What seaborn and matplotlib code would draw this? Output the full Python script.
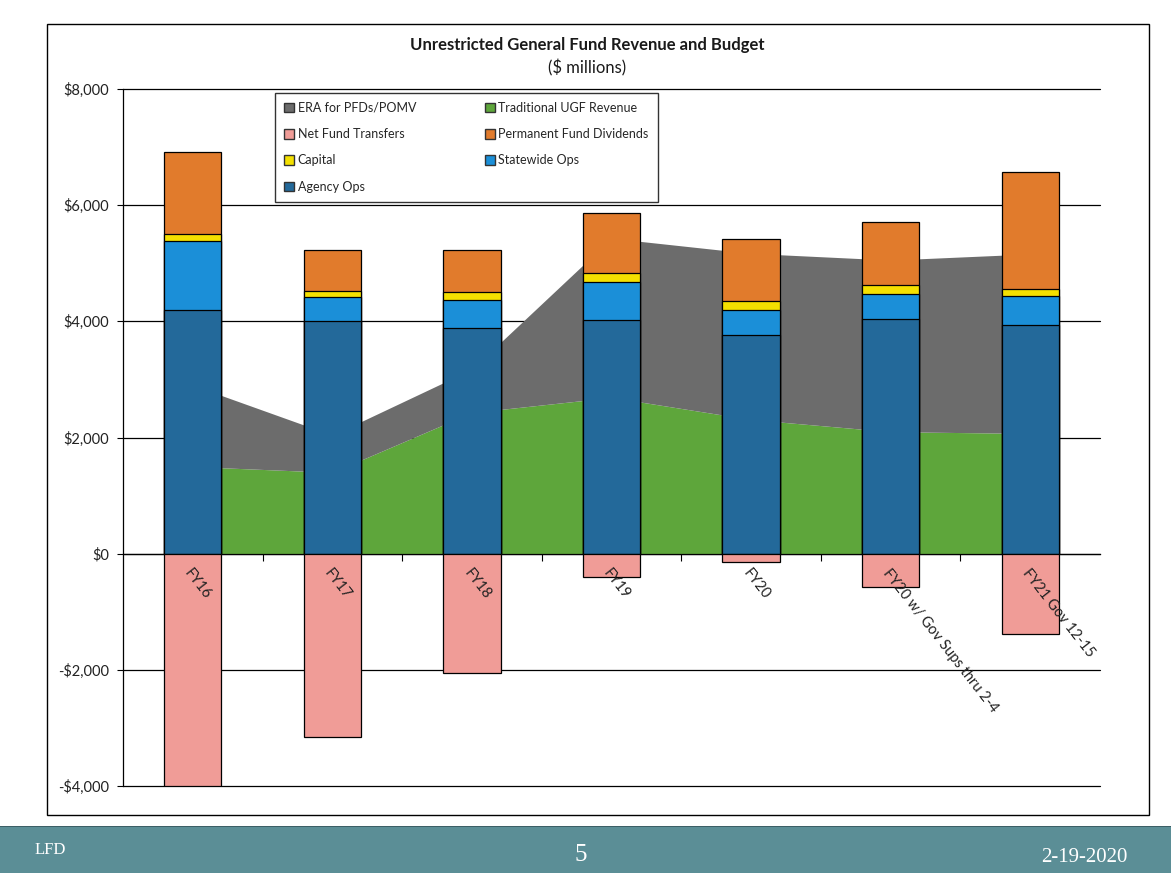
import numpy as np
import pandas as pd
import matplotlib
matplotlib.use("Agg")
import matplotlib.pyplot as plt
import seaborn as sns
from matplotlib.patches import Patch, Rectangle
from matplotlib.ticker import FuncFormatter, FixedLocator

# ---------------- data ($ millions) ----------------
categories = ["FY16", "FY17", "FY18", "FY19", "FY20",
              "FY20 w/ Gov Sups thru 2-4", "FY21 Gov 12-15"]
agency_ops = [4200, 4000, 3880, 4020, 3760, 4040, 3930]
statewide_ops = [1180, 420, 490, 650, 440, 430, 500]
capital = [130, 100, 140, 155, 150, 155, 125]
pf_dividends = [1400, 700, 710, 1035, 1070, 1080, 2020]
net_fund_transfers = [-4000, -3160, -2050, -410, -145, -580, -1380]
traditional_ugf = [1500, 1400, 2430, 2690, 2310, 2100, 2070]
era_pomv = [1400, 640, 745, 2740, 2860, 2955, 3090]
y_ticks = [-4000, -2000, 0, 2000, 4000, 6000, 8000]

# ---------------- styling ----------------
C_AGENCY = "#23699a"
C_STATEWIDE = "#1b8fd8"
C_CAPITAL = "#f4e000"
C_PFD = "#e17b2c"
C_NFT = "#f09c97"
C_UGF = "#5ea63b"
C_ERA = "#6c6c6c"

sns.set_theme(style="white")
plt.rcParams["font.family"] = ["Lato", "DejaVu Sans"]

W, H = 1171, 873
fig = plt.figure(figsize=(W / 100, H / 100), dpi=100)
fig.patch.set_facecolor("white")

# chart frame
fig.patches.append(Rectangle((47 / W, 1 - 815 / H), (1149 - 47) / W, (815 - 24) / H,
                             transform=fig.transFigure, fill=False,
                             edgecolor="black", linewidth=1.0, zorder=0))
# footer banner
fig.patches.append(Rectangle((0, 0), 1, 46 / H, transform=fig.transFigure,
                             facecolor="#5b8e96", edgecolor="none", zorder=0))
fig.patches.append(Rectangle((0, 46 / H), 1, 1.5 / H, transform=fig.transFigure,
                             facecolor="#3c5f66", edgecolor="none", zorder=0))
fig.text(35 / W, 1 - 850 / H, "LFD", color="white", fontsize=12,
         family="Liberation Serif", va="center", ha="left")
fig.text(581 / W, 1 - 855 / H, "5", color="white", fontsize=18,
         family="Liberation Serif", va="center", ha="center")
fig.text(1128 / W, 1 - 858 / H, "2-19-2020", color="white", fontsize=15,
         family="Liberation Serif", va="center", ha="right")

ax = fig.add_axes([123 / W, 1 - 786 / H, (1100 - 123) / W, (786 - 89) / H])

x = np.arange(len(categories))
ugf = np.array(traditional_ugf)
era_top = ugf + np.array(era_pomv)

# areas (revenue)
ax.fill_between(x, 0, ugf, color=C_UGF, linewidth=0, zorder=2)
ax.fill_between(x, ugf, era_top, color=C_ERA, linewidth=0, zorder=2)

# stacked bars (budget) drawn as cumulative layers, tallest first
stack_order = [agency_ops, statewide_ops, capital, pf_dividends]
cum = np.cumsum(np.array(stack_order), axis=0)
layers = [(cum[3], C_PFD), (cum[2], C_CAPITAL), (cum[1], C_STATEWIDE), (cum[0], C_AGENCY)]

bw = 0.41
for vals, col in layers:
    df = pd.DataFrame({"cat": categories, "val": vals})
    sns.barplot(data=df, x="cat", y="val", order=categories, color=col,
                width=bw, edgecolor="black", linewidth=0.9, saturation=1,
                ax=ax, zorder=3)

df_nft = pd.DataFrame({"cat": categories, "val": net_fund_transfers})
sns.barplot(data=df_nft, x="cat", y="val", order=categories, color=C_NFT,
            width=bw, edgecolor="black", linewidth=0.9, saturation=1,
            ax=ax, zorder=3)

ax.set_xlabel("")
ax.set_ylabel("")
ax.set_xlim(-0.5, len(categories) - 0.5)
ax.set_ylim(-4000, 8000)

# gridlines
ax.set_yticks(y_ticks)
ax.yaxis.set_major_formatter(FuncFormatter(
    lambda v, p: ("-$" if v < 0 else "$") + f"{abs(int(v)):,}"))
ax.grid(axis="y", color="black", linewidth=0.9)
ax.grid(axis="x", visible=False)
ax.set_axisbelow(True)
for gl in ax.yaxis.get_gridlines():
    gl.set_clip_on(False)

# spines
for s in ["top", "right"]:
    ax.spines[s].set_visible(False)
ax.spines["left"].set_color("black")
ax.spines["left"].set_linewidth(0.9)
ax.spines["bottom"].set_position(("data", 0))
ax.spines["bottom"].set_color("black")
ax.spines["bottom"].set_linewidth(0.9)
ax.spines["bottom"].set_zorder(2.5)

ax.tick_params(axis="y", which="major", length=4, width=0.8, color="black",
               labelsize=10.5, labelcolor="#222222", direction="out", left=True, pad=6)
ax.set_xticks(x)
ax.xaxis.set_minor_locator(FixedLocator(np.arange(0.5, len(categories) - 0.5, 1)))
ax.tick_params(axis="x", which="major", length=0, pad=9, labelsize=10.5,
               labelcolor="#222222")
ax.tick_params(axis="x", which="minor", length=5, width=0.8, color="black",
               direction="out", bottom=True)
for lab in ax.get_xticklabels():
    lab.set_rotation(-52)
    lab.set_ha("left")
    lab.set_va("top")
    lab.set_rotation_mode("anchor")
# x tick labels are drawn over the bars
ax.xaxis.set_zorder(4)

# title
fig.text(587 / W, 1 - 45 / H, "Unrestricted General Fund Revenue and Budget",
         ha="center", va="center", fontsize=12, fontweight="bold", color="#1a1a1a")
fig.text(587 / W, 1 - 68 / H, "($ millions)", ha="center", va="center",
         fontsize=12, color="#1a1a1a")

# legend
handles = [Patch(facecolor=C_ERA, edgecolor="#333333", label="ERA for PFDs/POMV"),
           Patch(facecolor=C_NFT, edgecolor="#333333", label="Net Fund Transfers"),
           Patch(facecolor=C_CAPITAL, edgecolor="#333333", label="Capital"),
           Patch(facecolor=C_AGENCY, edgecolor="#333333", label="Agency Ops"),
           Patch(facecolor=C_UGF, edgecolor="#333333", label="Traditional UGF Revenue"),
           Patch(facecolor=C_PFD, edgecolor="#333333", label="Permanent Fund Dividends"),
           Patch(facecolor=C_STATEWIDE, edgecolor="#333333", label="Statewide Ops")]
leg = ax.legend(handles=handles, ncol=2, loc="upper left",
                bbox_to_anchor=((275 - 123) / 977, (786 - 93) / 697),
                fontsize=9, frameon=True, fancybox=False, edgecolor="black",
                handlelength=0.8, handleheight=0.8, handletextpad=0.3,
                labelspacing=1.15, columnspacing=5.5, borderpad=0.7,
                borderaxespad=0)
leg.get_frame().set_linewidth(1.0)
leg.set_zorder(5)

fig.savefig("out.png", dpi=100, facecolor="white")
